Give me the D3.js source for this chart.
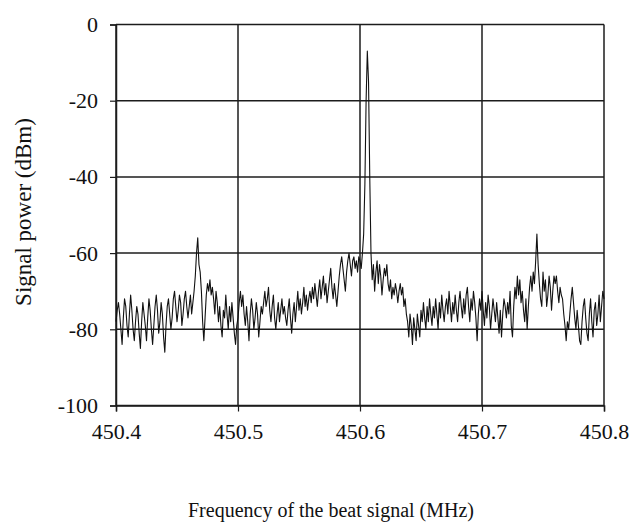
<!DOCTYPE html>
<html><head><meta charset="utf-8">
<script src="https://cdn.jsdelivr.net/npm/d3@7"></script>
<style>body{margin:0;background:#fff} svg text{font-family:'Liberation Serif','Times New Roman',serif !important;}</style>
</head><body>
<svg id="c" width="629" height="527"></svg>
<script>
// Spectrum sampled every 0.001 MHz from 450.400 to 450.800 MHz (values in dBm)
const freqStart = 450.4;
const freqStep = 0.001;
const power = [
  -78,-75,-73,-76,-80,-84,-77,-72,-74,-79,-82,-76,-71,-75,-80,-83,-78,-74,-76,-81,
  -85,-78,-73,-76,-79,-83,-77,-72,-75,-80,-84,-79,-74,-71,-75,-81,-78,-73,-76,-82,
  -86,-79,-74,-72,-76,-80,-77,-72,-70,-74,-78,-75,-71,-73,-79,-76,-72,-70,-74,-77,
  -74,-71,-76,-73,-70,-66,-60,-56,-63,-65,-70,-78,-83,-77,-71,-68,-70,-67,-71,-69,
  -72,-76,-70,-73,-78,-74,-79,-82,-75,-77,-71,-76,-80,-74,-78,-73,-77,-81,-84,-79,
  -77,-73,-70,-74,-71,-76,-79,-74,-78,-83,-76,-72,-75,-80,-77,-73,-76,-82,-78,-74,
  -76,-73,-70,-74,-72,-69,-75,-78,-74,-71,-77,-80,-76,-73,-78,-75,-72,-76,-74,-77,
  -79,-75,-72,-77,-81,-76,-73,-78,-74,-70,-75,-72,-76,-73,-69,-74,-71,-75,-72,-70,
  -73,-69,-72,-68,-71,-74,-70,-67,-72,-69,-66,-71,-68,-73,-70,-67,-64,-69,-72,-68,
  -71,-74,-70,-66,-63,-61,-64,-67,-70,-65,-62,-60,-63,-66,-62,-61,-64,-62,-65,-61,
  -62,-64,-60,-55,-42,-20,-7,-15,-40,-60,-67,-63,-70,-65,-62,-68,-63,-66,-71,-67,
  -64,-66,-63,-68,-70,-67,-72,-69,-71,-68,-70,-73,-70,-68,-71,-69,-74,-72,-76,-78,
  -82,-76,-79,-84,-77,-80,-83,-76,-79,-82,-75,-78,-73,-77,-80,-74,-78,-72,-76,-79,
  -74,-77,-72,-76,-80,-73,-77,-71,-75,-78,-74,-72,-76,-70,-74,-78,-73,-76,-71,-75,
  -78,-73,-70,-74,-77,-72,-76,-71,-69,-74,-78,-72,-75,-70,-73,-77,-83,-76,-72,-75,
  -70,-75,-79,-73,-77,-71,-74,-80,-76,-72,-75,-78,-73,-77,-81,-75,-82,-76,-72,-74,
  -77,-73,-76,-70,-79,-82,-74,-69,-72,-66,-71,-67,-73,-70,-75,-78,-72,-80,-74,-69,
  -66,-70,-65,-68,-62,-55,-63,-68,-72,-74,-65,-70,-67,-74,-71,-66,-69,-75,-70,-66,
  -68,-66,-70,-73,-69,-71,-72,-76,-79,-83,-78,-80,-76,-72,-69,-73,-77,-80,-75,-79,
  -83,-84,-78,-74,-72,-77,-81,-83,-76,-72,-78,-82,-75,-73,-79,-76,-71,-78,-74,-70,
  -72
];
const xTicks = [450.4, 450.5, 450.6, 450.7, 450.8];
const yTicks = [-100, -80, -60, -40, -20, 0];
const xTitle = "Frequency of the beat signal (MHz)";
const yTitle = "Signal power (dBm)";

const data = power.map((p, i) => ({f: freqStart + i * freqStep, p}));

const svg = d3.select("#c");
const m = {left: 116, right: 604, top: 24.5, bottom: 405.5};
const x = d3.scaleLinear().domain([450.4, 450.8]).range([m.left, m.right]);
const y = d3.scaleLinear().domain([-100, 0]).range([m.bottom, m.top]);
const font = "'Liberation Serif', 'Times New Roman', serif";
const gridColor = "#1c1c1c";

// grid lines (also forming the frame)
svg.append("g").selectAll("line").data(yTicks).join("line")
  .attr("x1", m.left).attr("x2", m.right)
  .attr("y1", d => y(d)).attr("y2", d => y(d))
  .attr("stroke", gridColor).attr("stroke-width", 1.5);
svg.append("g").selectAll("line").data(xTicks).join("line")
  .attr("y1", m.top).attr("y2", m.bottom)
  .attr("x1", d => x(d)).attr("x2", d => x(d))
  .attr("stroke", gridColor).attr("stroke-width", 1.5);

// axes
const xAxis = svg.append("g").attr("transform", `translate(0,${m.bottom})`)
  .call(d3.axisBottom(x).tickValues(xTicks).tickFormat(d3.format(".1f")).tickSize(6).tickPadding(12));
const yAxis = svg.append("g").attr("transform", `translate(${m.left},0)`)
  .call(d3.axisLeft(y).tickValues(yTicks).tickFormat(d => String(d)).tickSize(6).tickPadding(12));
[xAxis, yAxis].forEach(g => {
  g.attr("font-family", font).attr("font-size", 22);
  g.select(".domain").attr("stroke", gridColor).attr("stroke-width", 1.5);
  g.selectAll(".tick line").attr("stroke", gridColor).attr("stroke-width", 1.2);
  g.selectAll(".tick text").style("font-family", font).style("font-size", "22px").attr("fill", "#111");
});

// trace
const line = d3.line().x(d => x(d.f)).y(d => y(d.p));
svg.append("path").datum(data)
  .attr("d", line).attr("fill", "none")
  .attr("stroke", "#111").attr("stroke-width", 1.1).attr("stroke-linejoin", "round");

// titles
svg.append("text").attr("x", 331).attr("y", 517)
  .attr("text-anchor", "middle").style("font-family", font).style("font-size", "20px").attr("fill", "#111")
  .text(xTitle);
svg.append("text").attr("transform", `translate(31,${(m.top + m.bottom) / 2 - 3}) rotate(-90)`)
  .attr("text-anchor", "middle").style("font-family", font).style("font-size", "23px").attr("fill", "#111")
  .text(yTitle);
</script>
</body></html>
